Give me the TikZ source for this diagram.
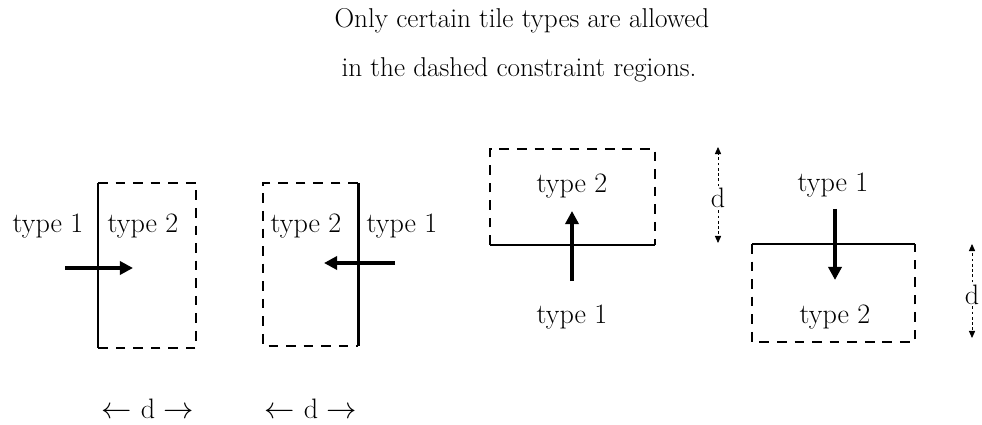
\documentclass[tikz,border=0pt]{standalone}
\usetikzlibrary{arrows.meta}
\tikzset{
  wall/.style={line width=1.7pt},
  region/.style={line width=0.8pt, dash pattern=on 5.5pt off 4.5pt},
  flow/.style={line width=2pt, -{Triangle[length=7.5pt,width=7.5pt]}},
  dimline/.style={line width=0.5pt, dash pattern=on 1.5pt off 1.5pt, -{Triangle[length=4pt,width=3.5pt]}},
  lbl/.style={font=\fontsize{16}{19}\selectfont, inner sep=1pt, anchor=base},
  head/.style={font=\fontsize{15.5}{18}\selectfont, inner sep=1pt, anchor=base},
}
\begin{document}
\begin{tikzpicture}[x=0.02cm, y=-0.02cm]
  \useasboundingbox (0,0) rectangle (982,425);
  % title
  \node[head] (title1) at (522,28) {Only certain tile types are allowed};
  \node[head] (title2) at (519,77) {in the dashed constraint regions.};
  % panel 1: vertical wall, region to the right
  \coordinate (w1t) at (98,183);
  \coordinate (w1b) at (98,348);
  \draw[region] (w1t) -- (196,183) -- (196,348) -- (w1b);
  \draw[wall] (w1t) -- (w1b);
  \node[lbl] (p1a) at (48,233) {type 1};
  \node[lbl] (p1b) at (143,233) {type 2};
  \coordinate (f1s) at (65,268);
  \coordinate (f1e) at (133,268);
  \draw[flow] (f1s) -- (f1e);
  \node[lbl] (d1) at (148,418) {$\leftarrow$ d $\rightarrow$};
  % panel 2: vertical wall, region to the left
  \coordinate (w2t) at (358,183);
  \coordinate (w2b) at (358,346);
  \draw[region] (w2t) -- (263,183) -- (263,346) -- (w2b);
  \draw[wall] (w2t) -- (w2b);
  \node[lbl] (p2b) at (306,233) {type 2};
  \node[lbl] (p2a) at (402,233) {type 1};
  \coordinate (f2s) at (395,263);
  \coordinate (f2e) at (324,263);
  \draw[flow] (f2s) -- (f2e);
  \node[lbl] (d2) at (311,418) {$\leftarrow$ d $\rightarrow$};
  % panel 3: horizontal wall, region above
  \coordinate (w3l) at (490,245);
  \coordinate (w3r) at (655,245);
  \draw[region] (w3l) -- (490,149) -- (655,149) -- (w3r);
  \draw[wall] (w3l) -- (w3r);
  \node[lbl] (p3b) at (572,193) {type 2};
  \node[lbl] (p3a) at (572,323) {type 1};
  \coordinate (f3s) at (572,281);
  \coordinate (f3e) at (572,211);
  \draw[flow] (f3s) -- (f3e);
  \node[lbl] (d3) at (718,208) {d};
  \coordinate (d3t) at (718,147);
  \coordinate (d3b) at (718,243);
  \draw[dimline] (d3.north) -- (d3t);
  \draw[dimline] (d3.south) -- (d3b);
  % panel 4: horizontal wall, region below
  \coordinate (w4l) at (752,244);
  \coordinate (w4r) at (915,244);
  \draw[region] (w4l) -- (752,342) -- (915,342) -- (w4r);
  \draw[wall] (w4l) -- (w4r);
  \node[lbl] (p4a) at (833,192) {type 1};
  \node[lbl] (p4b) at (835,323) {type 2};
  \coordinate (f4s) at (835,209);
  \coordinate (f4e) at (835,280);
  \draw[flow] (f4s) -- (f4e);
  \node[lbl] (d4) at (972,304) {d};
  \coordinate (d4t) at (972,244);
  \coordinate (d4b) at (972,338);
  \draw[dimline] (d4.north) -- (d4t);
  \draw[dimline] (d4.south) -- (d4b);
\end{tikzpicture}
\end{document}
